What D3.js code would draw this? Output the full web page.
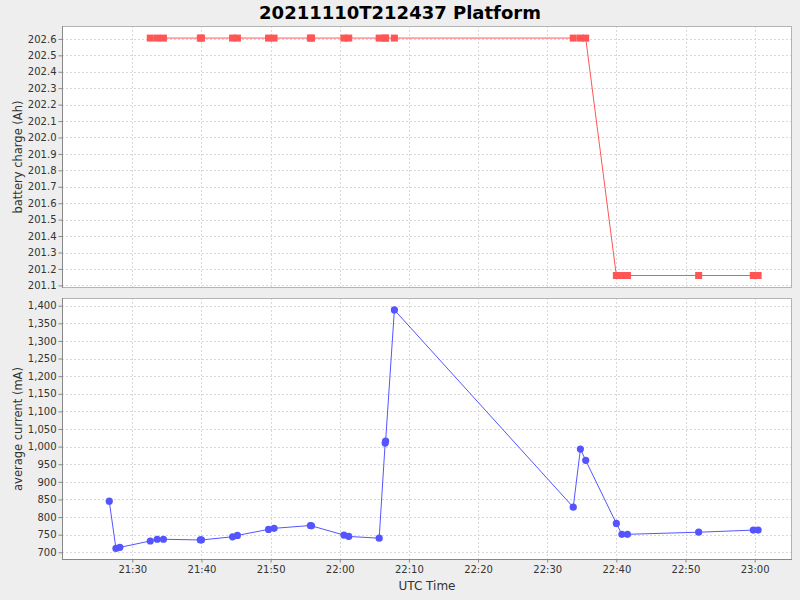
<!DOCTYPE html>
<html>
<head>
<meta charset="utf-8">
<script src="https://cdn.jsdelivr.net/npm/d3@7"></script>
<style>
  html, body { margin: 0; padding: 0; background: #eeeeee; }
  svg { display: block; font-family: "DejaVu Sans", sans-serif; }
</style>
</head>
<body>
<svg id="chart" width="800" height="600"></svg>
<script>
// ---- data (UTC, 2021-11-10) ----
const times = [
  "21:26:40","21:27:38","21:28:12","21:32:36","21:33:36","21:34:30",
  "21:39:50","21:40:00","21:44:30","21:45:12","21:49:42","21:50:30",
  "21:55:45","21:55:55","22:00:36","22:01:18","22:05:42","22:06:34",
  "22:06:38","22:07:54","22:33:46","22:34:48","22:35:34","22:40:00",
  "22:40:48","22:41:36","22:51:54","22:59:48","23:00:30"
];
const batteryCharge = [
  null, null, null, 202.605, 202.605, 202.605,
  202.605, 202.605, 202.605, 202.605, 202.605, 202.605,
  202.605, 202.605, 202.605, 202.605, 202.605, 202.605,
  202.605, 202.605, 202.605, 202.605, 202.605, 201.16,
  201.16, 201.16, 201.16, 201.16, 201.16
];
const averageCurrent = [
  845, 711, 714, 732, 737, 737,
  735, 735, 744, 748, 765, 768,
  776, 775, 749, 745, 740, 1010,
  1016, 1388, 828, 993, 961, 782,
  751, 751, 757, 763, 763
];
const xDomain = ["21:19:50", "23:05:24"];
const xTickLabels = ["21:30","21:40","21:50","22:00","22:10","22:20","22:30","22:40","22:50","23:00"];
const chargeDomain = [201.084, 202.6785];
const currentDomain = [678.1, 1421.9];
const chargeTicks = [201.1,201.2,201.3,201.4,201.5,201.6,201.7,201.8,201.9,202.0,202.1,202.2,202.3,202.4,202.5,202.6];
const currentTicks = [700,750,800,850,900,950,1000,1050,1100,1150,1200,1250,1300,1350,1400];
const title = "20211110T212437 Platform";

// ---- layout ----
const parseT = s => new Date("2021-11-10T" + (s.length === 5 ? s + ":00" : s) + "Z");
const L = 62, R = 792;
const top1 = 26, bot1 = 288;
const top2 = 298, bot2 = 560;

const svg = d3.select("#chart");
svg.append("rect").attr("width", 800).attr("height", 600).attr("fill", "#eeeeee");

const x = d3.scaleUtc().domain(xDomain.map(parseT)).range([L, R]);
const xTicks = xTickLabels.map(parseT);

const y1 = d3.scaleLinear().domain(chargeDomain).range([bot1, top1]);
const y2 = d3.scaleLinear().domain(currentDomain).range([bot2, top2]);

const rows = times.map((t, i) => ({ t: parseT(t), c: batteryCharge[i], a: averageCurrent[i] }));

function panel(yScale, yTicks, fmt, yTop, yBot, label, color, key, shape) {
  const g = svg.append("g");
  g.append("rect").attr("x", L).attr("y", yTop).attr("width", R - L).attr("height", yBot - yTop)
    .attr("fill", "#ffffff");
  // grid
  g.append("g").selectAll("line.v").data(xTicks).join("line")
    .attr("x1", d => Math.round(x(d)) + 0.5).attr("x2", d => Math.round(x(d)) + 0.5)
    .attr("y1", yTop).attr("y2", yBot)
    .attr("stroke", "#d8d8d8").attr("stroke-width", 1).attr("stroke-dasharray", "2,2");
  g.append("g").selectAll("line.h").data(yTicks).join("line")
    .attr("x1", L).attr("x2", R)
    .attr("y1", d => Math.round(yScale(d)) + 0.5).attr("y2", d => Math.round(yScale(d)) + 0.5)
    .attr("stroke", "#d8d8d8").attr("stroke-width", 1).attr("stroke-dasharray", "2,2");
  // outline
  g.append("rect").attr("x", L + 0.5).attr("y", yTop + 0.5).attr("width", R - L - 1).attr("height", yBot - yTop - 1)
    .attr("fill", "none").attr("stroke", "#b4b4b4");
  // y axis
  const ax = d3.axisLeft(yScale).tickValues(yTicks).tickFormat(fmt).tickSize(4).tickPadding(2);
  const ag = g.append("g").attr("transform", `translate(${L + 0.5},0)`).call(ax);
  ag.select(".domain").attr("stroke", "#888888").attr("d", `M0,${yTop}V${yBot}`);
  ag.selectAll(".tick line").attr("stroke", "#888888");
  ag.selectAll(".tick text").attr("font-size", "10px").attr("fill", "#333333")
    .attr("font-family", "DejaVu Sans, sans-serif");
  // y label
  g.append("text")
    .attr("transform", `translate(22,${(yTop + yBot) / 2}) rotate(-90)`)
    .attr("text-anchor", "middle").attr("font-size", "11.5px").attr("fill", "#333333")
    .text(label);
  // data
  const clipId = "clip" + key;
  svg.append("clipPath").attr("id", clipId).append("rect")
    .attr("x", L).attr("y", yTop).attr("width", R - L).attr("height", yBot - yTop);
  const dg = g.append("g").attr("clip-path", `url(#${clipId})`);
  const line = d3.line().defined(d => d[key] != null).x(d => x(d.t)).y(d => yScale(d[key]));
  dg.append("path").datum(rows).attr("d", line).attr("fill", "none").attr("stroke", color).attr("stroke-width", 1);
  const pts = rows.filter(d => d[key] != null);
  if (shape === "square") {
    dg.selectAll("rect.pt").data(pts).join("rect")
      .attr("x", d => x(d.t) - 3.5).attr("y", d => yScale(d[key]) - 3.5)
      .attr("width", 7).attr("height", 7).attr("fill", color);
  } else {
    dg.selectAll("circle.pt").data(pts).join("circle")
      .attr("cx", d => x(d.t)).attr("cy", d => yScale(d[key])).attr("r", 3.6).attr("fill", color);
  }
}

panel(y1, chargeTicks, d3.format(".1f"), top1, bot1, "battery charge (Ah)", "#ff5555", "c", "square");
panel(y2, currentTicks, d3.format(","), top2, bot2, "average current (mA)", "#5555ff", "a", "circle");

// x axis at bottom
const xa = d3.axisBottom(x).tickValues(xTicks).tickFormat(d3.utcFormat("%H:%M")).tickSize(3).tickPadding(3);
const xg = svg.append("g").attr("transform", `translate(0,${bot2 - 0.5})`).call(xa);
xg.select(".domain").attr("stroke", "#888888").attr("d", `M${L},0H${R}`);
xg.selectAll(".tick line").attr("stroke", "#888888");
xg.selectAll(".tick text").attr("font-size", "10px").attr("fill", "#333333")
  .attr("font-family", "DejaVu Sans, sans-serif");

svg.append("text").attr("x", (L + R) / 2).attr("y", 590).attr("text-anchor", "middle")
  .attr("font-size", "12px").attr("fill", "#333333").text("UTC Time");

svg.append("text").attr("x", 400).attr("y", 18.5).attr("text-anchor", "middle")
  .attr("font-size", "18px").attr("font-weight", "bold").attr("fill", "#000000").text(title);
</script>
</body>
</html>
